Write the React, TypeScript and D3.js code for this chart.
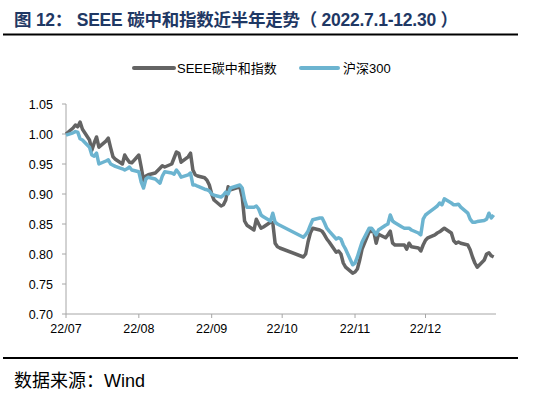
import React from 'react';
import * as d3 from 'd3';

// trading dates and index values (normalised to 1 on 2022-07-01)
const dates = [
  '2022-07-01', '2022-07-04', '2022-07-05', '2022-07-06', '2022-07-07', '2022-07-08',
  '2022-07-11', '2022-07-12', '2022-07-13', '2022-07-14', '2022-07-15',
  '2022-07-18', '2022-07-19', '2022-07-20', '2022-07-21', '2022-07-22',
  '2022-07-25', '2022-07-26', '2022-07-27', '2022-07-28', '2022-07-29',
  '2022-08-01', '2022-08-02', '2022-08-03', '2022-08-04', '2022-08-05',
  '2022-08-08', '2022-08-10', '2022-08-11', '2022-08-12',
  '2022-08-15', '2022-08-16', '2022-08-17', '2022-08-18', '2022-08-19',
  '2022-08-22', '2022-08-23', '2022-08-24', '2022-08-25', '2022-08-26',
  '2022-08-29', '2022-08-30', '2022-08-31', '2022-09-01', '2022-09-02',
  '2022-09-05', '2022-09-06', '2022-09-07', '2022-09-08', '2022-09-09',
  '2022-09-13', '2022-09-14', '2022-09-15', '2022-09-16',
  '2022-09-19', '2022-09-20', '2022-09-21', '2022-09-22', '2022-09-23',
  '2022-09-26', '2022-09-27', '2022-09-28', '2022-09-29', '2022-09-30',
  '2022-10-10', '2022-10-11', '2022-10-12', '2022-10-13', '2022-10-14',
  '2022-10-17', '2022-10-18', '2022-10-19', '2022-10-20', '2022-10-21',
  '2022-10-24', '2022-10-25', '2022-10-26', '2022-10-27', '2022-10-28',
  '2022-10-31', '2022-11-01', '2022-11-02', '2022-11-03', '2022-11-04',
  '2022-11-07', '2022-11-08', '2022-11-09', '2022-11-10', '2022-11-11',
  '2022-11-14', '2022-11-15', '2022-11-16', '2022-11-17', '2022-11-18',
  '2022-11-21', '2022-11-22', '2022-11-23', '2022-11-24', '2022-11-25',
  '2022-11-28', '2022-11-29', '2022-11-30', '2022-12-01', '2022-12-02',
  '2022-12-05', '2022-12-06', '2022-12-07', '2022-12-08', '2022-12-09',
  '2022-12-12', '2022-12-13', '2022-12-14', '2022-12-15', '2022-12-16',
  '2022-12-19', '2022-12-20', '2022-12-21', '2022-12-22', '2022-12-23',
  '2022-12-26', '2022-12-27', '2022-12-28', '2022-12-29', '2022-12-30',
];

const seee = [
  1.000, 1.010, 1.015, 1.012, 1.020, 1.008,
  0.990, 0.973, 0.985, 0.995, 0.978,
  0.988, 0.993, 0.977, 0.962, 0.958,
  0.950, 0.965, 0.958, 0.953, 0.952,
  0.965, 0.945, 0.923, 0.930, 0.932,
  0.935, 0.943, 0.947, 0.945,
  0.950, 0.960, 0.970, 0.968, 0.953,
  0.962, 0.968, 0.940, 0.932, 0.930,
  0.927, 0.923, 0.915, 0.900, 0.890,
  0.880, 0.882, 0.890, 0.912, 0.907,
  0.912, 0.895, 0.855, 0.848,
  0.840, 0.858, 0.850, 0.843, 0.845,
  0.853, 0.852, 0.818, 0.812, 0.810,
  0.795, 0.800, 0.820, 0.835, 0.843,
  0.840, 0.838, 0.832, 0.825, 0.820,
  0.803, 0.805, 0.800, 0.785, 0.778,
  0.768, 0.770, 0.775, 0.790, 0.808,
  0.837, 0.838, 0.837, 0.818, 0.833,
  0.827, 0.832, 0.838, 0.818, 0.815,
  0.815, 0.815, 0.808, 0.818, 0.812,
  0.810, 0.805, 0.815, 0.823, 0.827,
  0.832, 0.835, 0.837, 0.840, 0.843,
  0.835, 0.822, 0.818, 0.820, 0.818,
  0.815, 0.807, 0.795, 0.785, 0.778,
  0.790, 0.800, 0.802, 0.797, 0.795,
];

const hs300 = [
  0.998, 1.002, 1.004, 1.003, 0.992, 0.990,
  0.978, 0.965, 0.963, 0.968, 0.950,
  0.955, 0.957, 0.950, 0.948, 0.946,
  0.942, 0.940, 0.942, 0.945, 0.940,
  0.937, 0.920, 0.910, 0.925, 0.928,
  0.925, 0.918, 0.930, 0.937,
  0.935, 0.933, 0.940, 0.935, 0.928,
  0.932, 0.935, 0.915, 0.915, 0.913,
  0.908, 0.907, 0.905, 0.900, 0.898,
  0.895, 0.898, 0.903, 0.900, 0.910,
  0.915, 0.910, 0.890, 0.878,
  0.878, 0.880, 0.875, 0.865, 0.862,
  0.855, 0.868, 0.853, 0.850, 0.848,
  0.828, 0.832, 0.838, 0.848, 0.857,
  0.860, 0.860, 0.852, 0.843, 0.838,
  0.825, 0.827, 0.825, 0.815, 0.808,
  0.782, 0.785, 0.795, 0.808, 0.820,
  0.843, 0.843, 0.838, 0.832, 0.840,
  0.848, 0.850, 0.865, 0.855, 0.852,
  0.845, 0.843, 0.843, 0.843, 0.840,
  0.835, 0.832, 0.858, 0.865, 0.868,
  0.877, 0.880, 0.885, 0.882, 0.892,
  0.885, 0.882, 0.882, 0.883, 0.878,
  0.868, 0.858, 0.853, 0.853, 0.854,
  0.856, 0.858, 0.868, 0.860, 0.865,
];

const yTicks = [0.70, 0.75, 0.80, 0.85, 0.90, 0.95, 1.00, 1.05];
const monthTicks = ['2022-07-01', '2022-08-01', '2022-09-01', '2022-10-01', '2022-11-01', '2022-12-01'];
const monthLabels = ['22/07', '22/08', '22/09', '22/10', '22/11', '22/12'];
const seriesNames = ['SEEE碳中和指数', '沪深300'];
const colors = ['#646464', '#6cb4d0'];

const W = 533;
const H = 393;
const parse = d3.timeParse('%Y-%m-%d');
const latin = 'Arial, "Liberation Sans", "Noto Sans CJK SC", sans-serif';

export default function App() {
  const x = d3.scaleTime()
    .domain([parse('2022-07-01') as Date, parse('2022-12-31') as Date])
    .range([66, 496]);
  const y = d3.scaleLinear().domain([0.70, 1.05]).range([314, 104]);

  const pts = dates.map((d, i) => ({ t: parse(d) as Date, a: seee[i], b: hs300[i] }));
  const lineA = d3.line<any>().x(d => x(d.t)).y(d => y(d.a));
  const lineB = d3.line<any>().x(d => x(d.t)).y(d => y(d.b));

  return (
    <svg width={W} height={H} style={{ position: 'absolute', left: 0, top: 0, background: '#fff' }}>
      <text x={14} y={26} fontSize={17.5} fontWeight="bold" fill="#1f3864" fontFamily={latin}
        textLength={444} lengthAdjust="spacing">
        图 12： SEEE 碳中和指数近半年走势（ 2022.7.1-12.30 ）
      </text>
      <line x1={3} x2={518} y1={34.5} y2={34.5} stroke="#000" strokeWidth={2} />

      {/* legend */}
      <g fontFamily={latin} fontSize={13} fill="#000">
        <line x1={134} x2={174} y1={68} y2={68} stroke={colors[0]} strokeWidth={4} strokeLinecap="round" />
        <text x={177} y={73}>{seriesNames[0]}</text>
        <line x1={301} x2={338} y1={68} y2={68} stroke={colors[1]} strokeWidth={4} strokeLinecap="round" />
        <text x={343} y={73}>{seriesNames[1]}</text>
      </g>

      {/* y axis */}
      <line x1={66} x2={66} y1={104} y2={314} stroke="#a6a6a6" />
      {yTicks.map(t => (
        <g key={t}>
          <line x1={62} x2={66} y1={y(t)} y2={y(t)} stroke="#a6a6a6" />
          <text x={53} y={y(t) + 4.5} textAnchor="end" fontSize={12.5} fontFamily={latin}>{t.toFixed(2)}</text>
        </g>
      ))}

      {/* x axis */}
      <line x1={66} x2={496} y1={314} y2={314} stroke="#a6a6a6" />
      {monthTicks.map((m, i) => (
        <g key={m}>
          <line x1={x(parse(m) as Date)} x2={x(parse(m) as Date)} y1={314} y2={318} stroke="#a6a6a6" />
          <text x={x(parse(m) as Date)} y={333} textAnchor="middle" fontSize={12.5} fontFamily={latin}>{monthLabels[i]}</text>
        </g>
      ))}

      <path d={lineA(pts) || ''} fill="none" stroke={colors[0]} strokeWidth={3.5} strokeLinejoin="round" />
      <path d={lineB(pts) || ''} fill="none" stroke={colors[1]} strokeWidth={3.5} strokeLinejoin="round" />

      <line x1={3} x2={518} y1={358} y2={358} stroke="#000" strokeWidth={2} />
      <text x={14} y={387} fontSize={18} fontFamily={latin}>数据来源：Wind</text>
    </svg>
  );
}
